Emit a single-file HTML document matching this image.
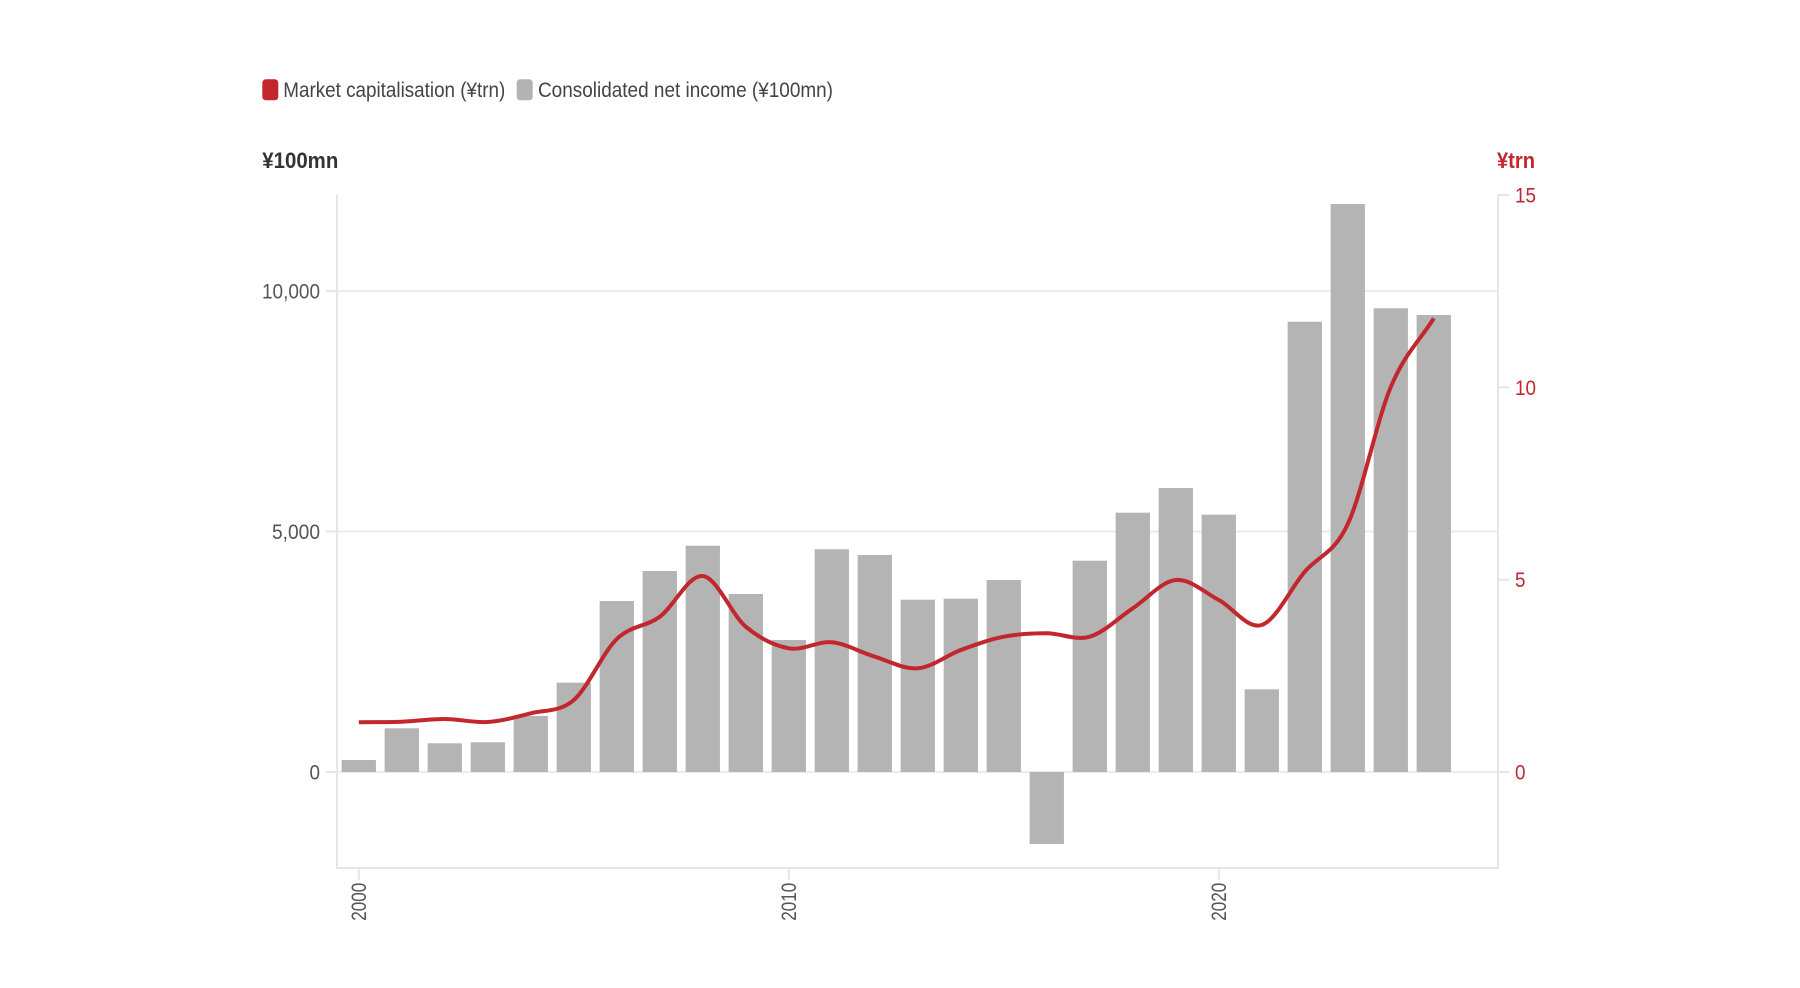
<!DOCTYPE html>
<html><head><meta charset="utf-8"><style>
html,body{margin:0;padding:0;background:#fff;}
svg{display:block;}
text{font-family:"Liberation Sans Narrow","Liberation Sans",sans-serif;}
</style></head><body>
<svg width="1800" height="988" viewBox="0 0 1800 988" xmlns="http://www.w3.org/2000/svg">
<rect width="1800" height="988" fill="#fff"/>
<!-- legend -->
<rect x="262.3" y="79.3" width="16" height="21" rx="3.5" fill="#c1272d"/>
<text x="283.3" y="96.8" font-size="21" fill="#444" textLength="222" lengthAdjust="spacingAndGlyphs">Market capitalisation (¥trn)</text>
<rect x="516.7" y="79.3" width="16" height="21" rx="3.5" fill="#b3b3b3"/>
<text x="538" y="96.8" font-size="21" fill="#444" textLength="295" lengthAdjust="spacingAndGlyphs">Consolidated net income (¥100mn)</text>
<!-- axis titles -->
<text x="262.3" y="167.8" font-size="22" font-weight="bold" fill="#333" textLength="76" lengthAdjust="spacingAndGlyphs">¥100mn</text>
<text x="1497" y="167.8" font-size="22" font-weight="bold" fill="#c1272d" textLength="38" lengthAdjust="spacingAndGlyphs">¥trn</text>
<!-- gridlines -->
<g stroke="#ebebeb" stroke-width="2">
<line x1="337" y1="291" x2="1498" y2="291"/>
<line x1="337" y1="531.5" x2="1498" y2="531.5"/>
<line x1="337" y1="772" x2="1498" y2="772"/>
</g>
<!-- axes -->
<g stroke="#e6e6e6" stroke-width="2" fill="none">
<line x1="337" y1="195" x2="337" y2="868"/>
<line x1="1498" y1="195" x2="1498" y2="868"/>
<line x1="336" y1="868" x2="1499" y2="868"/>
<line x1="326" y1="291" x2="337" y2="291"/>
<line x1="326" y1="531.5" x2="337" y2="531.5"/>
<line x1="326" y1="772" x2="337" y2="772"/>
<line x1="1498" y1="195" x2="1509" y2="195"/>
<line x1="1498" y1="387.3" x2="1509" y2="387.3"/>
<line x1="1498" y1="579.7" x2="1509" y2="579.7"/>
<line x1="1498" y1="772" x2="1509" y2="772"/>
<line x1="358.8" y1="868" x2="358.8" y2="880"/>
<line x1="788.8" y1="868" x2="788.8" y2="880"/>
<line x1="1218.8" y1="868" x2="1218.8" y2="880"/>
</g>
<!-- left tick labels -->
<g font-size="21" fill="#555" text-anchor="end">
<text x="320" y="298.5" textLength="58" lengthAdjust="spacingAndGlyphs">10,000</text>
<text x="320" y="539" textLength="48" lengthAdjust="spacingAndGlyphs">5,000</text>
<text x="320" y="779.5" textLength="10.5" lengthAdjust="spacingAndGlyphs">0</text>
</g>
<!-- right tick labels -->
<g font-size="21" fill="#c1272d">
<text x="1515" y="202.5" textLength="21" lengthAdjust="spacingAndGlyphs">15</text>
<text x="1515" y="394.8" textLength="21" lengthAdjust="spacingAndGlyphs">10</text>
<text x="1515" y="587.2" textLength="10.5" lengthAdjust="spacingAndGlyphs">5</text>
<text x="1515" y="779.5" textLength="10.5" lengthAdjust="spacingAndGlyphs">0</text>
</g>
<!-- year labels -->
<g font-size="21" fill="#555" text-anchor="end">
<text transform="translate(366,882.7) rotate(-90)" textLength="38" lengthAdjust="spacingAndGlyphs">2000</text>
<text transform="translate(796,882.7) rotate(-90)" textLength="38" lengthAdjust="spacingAndGlyphs">2010</text>
<text transform="translate(1226,882.7) rotate(-90)" textLength="38" lengthAdjust="spacingAndGlyphs">2020</text>
</g>
<!-- bars -->
<g fill="#b4b4b4">
<rect x="341.65" y="760" width="34.3" height="12"/>
<rect x="384.65" y="728.3" width="34.3" height="43.7"/>
<rect x="427.65" y="743.3" width="34.3" height="28.7"/>
<rect x="470.65" y="742.3" width="34.3" height="29.7"/>
<rect x="513.65" y="716" width="34.3" height="56"/>
<rect x="556.65" y="682.7" width="34.3" height="89.3"/>
<rect x="599.65" y="601" width="34.3" height="171"/>
<rect x="642.65" y="571" width="34.3" height="201"/>
<rect x="685.65" y="545.7" width="34.3" height="226.3"/>
<rect x="728.65" y="594" width="34.3" height="178"/>
<rect x="771.65" y="640" width="34.3" height="132"/>
<rect x="814.65" y="549.3" width="34.3" height="222.7"/>
<rect x="857.65" y="555" width="34.3" height="217"/>
<rect x="900.65" y="599.7" width="34.3" height="172.3"/>
<rect x="943.65" y="598.7" width="34.3" height="173.3"/>
<rect x="986.65" y="580" width="34.3" height="192"/>
<rect x="1029.65" y="772" width="34.3" height="72"/>
<rect x="1072.65" y="560.7" width="34.3" height="211.3"/>
<rect x="1115.65" y="512.7" width="34.3" height="259.3"/>
<rect x="1158.65" y="488" width="34.3" height="284"/>
<rect x="1201.65" y="514.7" width="34.3" height="257.3"/>
<rect x="1244.65" y="689.3" width="34.3" height="82.7"/>
<rect x="1287.65" y="321.7" width="34.3" height="450.3"/>
<rect x="1330.65" y="204" width="34.3" height="568"/>
<rect x="1373.65" y="308.3" width="34.3" height="463.7"/>
<rect x="1416.65" y="315" width="34.3" height="457"/>
</g>
<!-- line -->
<path fill="none" stroke="#c1272d" stroke-width="4" stroke-linecap="butt" stroke-linejoin="round" d="M358.8,722.3
C373.13,722.1 387.47,722.25 401.8,721.7
C416.13,721.15 430.47,718.95 444.8,719
C459.13,719.05 473.47,722.95 487.8,722
C502.13,721.05 516.47,716.97 530.8,713.3
C545.13,709.63 559.47,712.38 573.8,700
C588.13,687.62 602.47,652.88 616.8,639
C631.13,625.12 645.47,627.2 659.8,616.7
C674.13,606.2 688.47,574.33 702.8,576
C717.13,577.67 731.47,614.65 745.8,626.7
C760.13,638.75 774.47,645.7 788.8,648.3
C803.13,650.9 817.47,640.9 831.8,642.3
C846.13,643.7 860.47,652.37 874.8,656.7
C889.13,661.03 903.47,669.42 917.8,668.3
C932.13,667.18 946.47,655.27 960.8,650
C975.13,644.73 989.47,639.48 1003.8,636.7
C1018.13,633.92 1032.47,633.3 1046.8,633.3
C1061.13,633.3 1075.47,640.87 1089.8,636.7
C1104.13,632.53 1118.47,617.75 1132.8,608.3
C1147.13,598.85 1161.47,581.38 1175.8,580
C1190.13,578.62 1204.47,592.5 1218.8,600
C1233.13,607.5 1247.47,629.72 1261.8,625
C1276.13,620.28 1290.47,588.53 1304.8,571.7
C1319.13,554.87 1333.47,554.78 1347.8,524
C1362.13,493.22 1376.47,421.28 1390.8,387
C1405.13,352.72 1419.47,341.2 1433.8,318.3"/>
</svg>
</body></html>
